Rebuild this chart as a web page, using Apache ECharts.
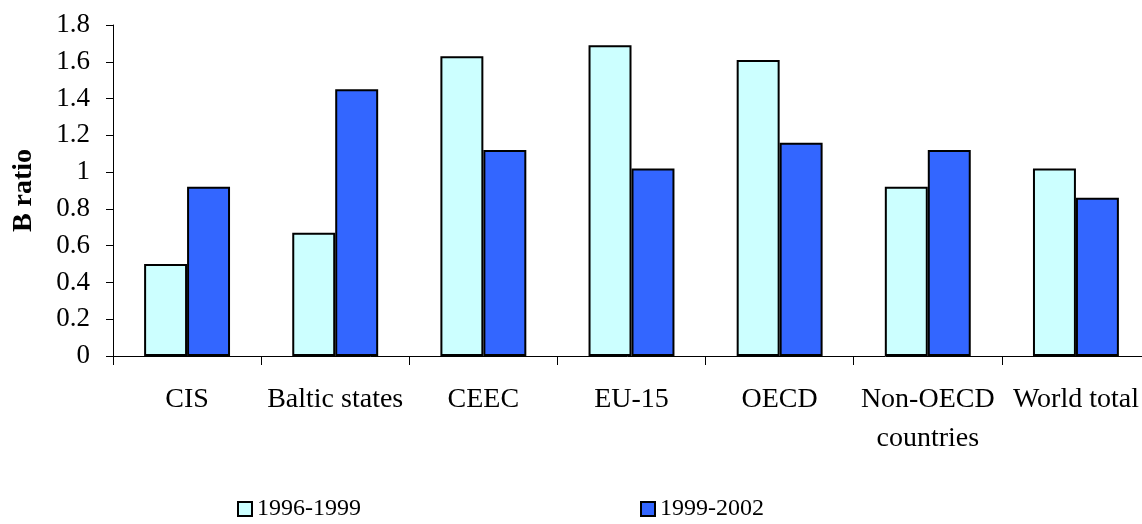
<!DOCTYPE html>
<html>
<head>
<meta charset="utf-8">
<script src="https://cdn.jsdelivr.net/npm/echarts@6/dist/echarts.min.js"></script>
<style>html,body{margin:0;padding:0;background:#fff}#c{width:1142px;height:524px}</style>
</head>
<body>
<div id="c"></div>
<script>
const categories = ['CIS', 'Baltic states', 'CEEC', 'EU-15', 'OECD', 'Non-OECD\ncountries', 'World total'];
const series1996 = [0.50, 0.67, 1.63, 1.69, 1.61, 0.92, 1.02];
const series1999 = [0.92, 1.45, 1.12, 1.02, 1.16, 1.12, 0.86];
const yTicks = [0, 0.2, 0.4, 0.6, 0.8, 1, 1.2, 1.4, 1.6, 1.8];

const font = '"Liberation Serif", "Times New Roman", serif';
const chart = echarts.init(document.getElementById('c'));
chart.setOption({
  animation: false,
  textStyle: { fontFamily: font },
  grid: { left: 113, top: 25, width: 1037, bottom: 168, containLabel: false, outerBoundsMode: 'none' },
  legend: [
    { data: ['1996-1999'], left: 237, top: 497, padding: 0, icon: 'rect', itemWidth: 14, itemHeight: 14,
      textStyle: { fontFamily: font, fontSize: 24, color: '#000' } },
    { data: ['1999-2002'], left: 640, top: 497, padding: 0, icon: 'rect', itemWidth: 14, itemHeight: 14,
      textStyle: { fontFamily: font, fontSize: 24, color: '#000' } }
  ],
  xAxis: {
    type: 'category',
    data: categories,
    axisLine: { lineStyle: { color: '#000', width: 1 } },
    axisTick: { show: true, length: 9, lineStyle: { color: '#000' } },
    axisLabel: { color: '#000', fontSize: 28, fontFamily: font, margin: 24, lineHeight: 39, interval: 0 }
  },
  yAxis: {
    type: 'value',
    min: 0, max: 1.8, interval: 0.2,
    name: 'B ratio',
    nameLocation: 'middle',
    nameGap: 75,
    nameRotate: 90,
    nameTextStyle: { fontFamily: font, fontSize: 28, fontWeight: 'bold', color: '#000' },
    splitLine: { show: false },
    axisLine: { show: true, lineStyle: { color: '#000', width: 1 } },
    axisTick: { show: true, length: 7, lineStyle: { color: '#000' } },
    axisLabel: { color: '#000', fontSize: 27, fontFamily: font, margin: 23,
      formatter: v => { const t = yTicks.find(x => Math.abs(x - v) < 1e-9); return String(t !== undefined ? t : v); } }
  },
  series: [
    { name: '1996-1999', type: 'bar', data: series1996, barGap: '0%', barCategoryGap: '42%',
      itemStyle: { color: '#CCFFFF', borderColor: '#000', borderWidth: 2 } },
    { name: '1999-2002', type: 'bar', data: series1999, barGap: '0%', barCategoryGap: '42%',
      itemStyle: { color: '#3366FF', borderColor: '#000', borderWidth: 2 } }
  ]
});
</script>
</body>
</html>
